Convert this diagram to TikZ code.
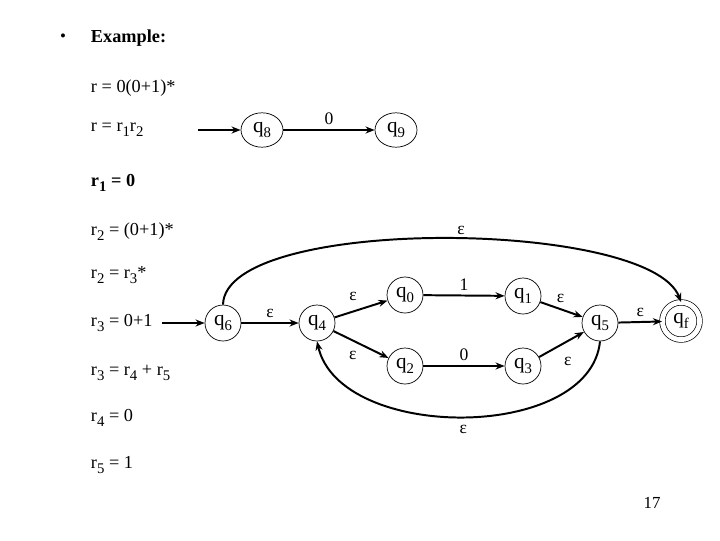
\documentclass[tikz,border=0pt]{standalone}
\usepackage{fontspec}
\setmainfont{Liberation Serif}
\usetikzlibrary{arrows.meta,shapes.geometric}

% subscript as the slide prints it
\newcommand{\lowidx}[1]{\raisebox{-0.6ex}{\fontsize{10.5}{10.5}\selectfont #1}}

\begin{document}
\begin{tikzpicture}[>={Stealth[length=6.5pt,width=5pt]},x=0.025cm,y=-0.025cm,
	state/.style={draw,circle,line width=0.5pt,minimum size=0.9cm,inner sep=0pt,
		font=\fontsize{15}{15}\selectfont},
	oval/.style={draw,ellipse,line width=0.5pt,minimum width=1.05cm,minimum height=0.86cm,
		inner sep=0pt,font=\fontsize{15}{15}\selectfont},
	accept/.style={state,minimum size=0.93cm,double,double distance=0.12cm},
	trans/.style={->,line width=1.4pt},
	line/.style={anchor=west,font=\fontsize{13}{15}\selectfont},
	lab/.style={font=\fontsize{12.5}{14}\selectfont,inner sep=2pt}]
	
	\useasboundingbox (0,0) rectangle (720,540);
	
	% ===== 左侧文字：正则式分解 =====
	\node[font=\fontsize{12}{14}\selectfont] (dot) at (63,38) {•};
	\node[line,font=\fontsize{13}{15}\selectfont\bfseries] (title) at (86,38) {Example:};
	\node[line] (rr) at (86,88) {r = 0(0+1)*};
	\node[line] (rcat) at (86,130) {r = r\lowidx{1}r\lowidx{2}};
	\node[line,font=\fontsize{13}{15}\selectfont\bfseries] (rone) at (86,183) {r\lowidx{\bfseries 1} = 0};
	\node[line] (rtwo) at (86,232) {r\lowidx{2} = (0+1)*};
	\node[line] (rstar) at (86,275) {r\lowidx{2} = r\lowidx{3}*};
	\node[line] (rthree) at (86,323) {r\lowidx{3} = 0+1};
	\node[line] (runion) at (86,373) {r\lowidx{3} = r\lowidx{4} + r\lowidx{5}};
	\node[line] (rfour) at (86,418) {r\lowidx{4} = 0};
	\node[line] (rfive) at (86,465) {r\lowidx{5} = 1};
	
	% ===== r1 的自动机 =====
	\coordinate (in8) at (198,130);
	\node[oval] (q8) at (262,130) {q\lowidx{8}};
	\node[oval] (q9) at (396,130) {q\lowidx{9}};
	\draw[trans] (in8) -- (q8);
	\draw[trans] (q8) -- node[lab,above=1pt] {0} (q9);
	
	% ===== r2 = (0+1)* 的自动机 =====
	\coordinate (in6) at (162,323);
	\node[state] (q6) at (223,323) {q\lowidx{6}};
	\node[state] (q4) at (317,323) {q\lowidx{4}};
	\node[state] (q0) at (405,295) {q\lowidx{0}};
	\node[state] (q2) at (405,366) {q\lowidx{2}};
	\node[state] (q1) at (523,296) {q\lowidx{1}};
	\node[state] (q3) at (523,366) {q\lowidx{3}};
	\node[state] (q5) at (600,323) {q\lowidx{5}};
	\node[accept] (qf) at (681,321) {q\lowidx{f}};
	
	% ---- 直线转移 ----
	\draw[trans] (in6) -- (q6);
	\draw[trans] (q6) -- node[lab,above=1pt] {ε} (q4);
	\draw[trans] (q4) -- node[lab,above=5pt,pos=0.35] {ε} (q0);
	\draw[trans] (q4) -- node[lab,below=5pt,pos=0.35] {ε} (q2);
	\draw[trans] (q0) -- node[lab,above=1pt] {1} (q1);
	\draw[trans] (q2) -- node[lab,above=1pt] {0} (q3);
	\draw[trans] (q1) -- node[lab,above right,pos=0.3] {ε} (q5);
	\draw[trans] (q3) -- node[lab,below right=4pt,pos=0.35] {ε} (q5);
	\draw[trans] (q5) -- node[lab,above=1pt] {ε} (qf);
	
	% ---- 弧线：跳过与回环 ----
	\draw[trans] (q6.north) .. controls (225,215) and (650,219) .. (qf.north)
	node[lab,above,pos=0.53] {ε};
	\draw[trans] (q5.south) .. controls (590,442) and (340,442) .. (q4.south)
	node[lab,below=3pt,pos=0.5] {ε};
	
	% ---- 页码 ----
	\node[font=\fontsize{12}{14}\selectfont] (page) at (652,503) {17};
	
\end{tikzpicture}
\end{document}
